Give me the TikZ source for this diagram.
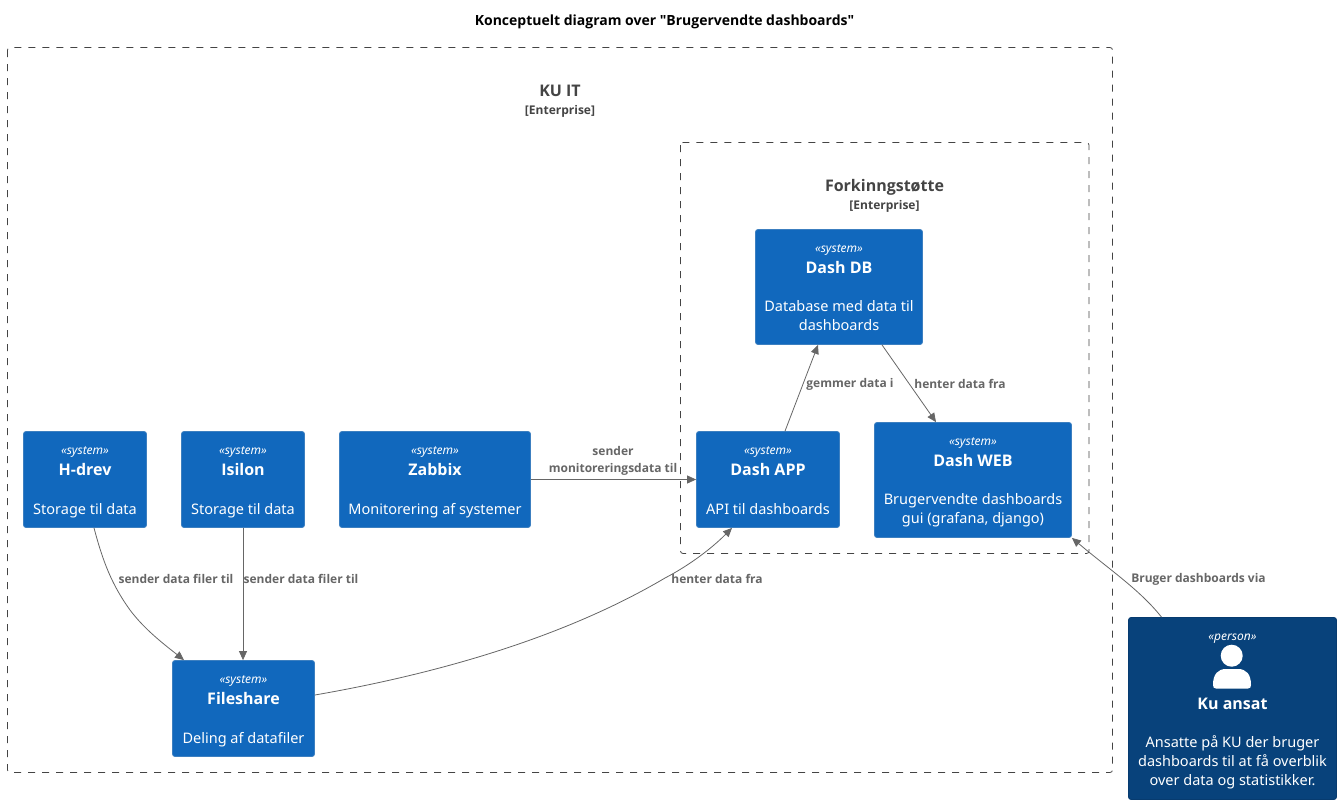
\documentclass[tikz,border=0pt]{standalone}
\usepackage{fontspec}
\setmainfont{Noto Sans}[Ligatures=TeXOff,BoldFont={Open Sans Bold}]
\usetikzlibrary{arrows.meta}
\definecolor{syscol}{HTML}{1168BD}
\definecolor{syslinecol}{HTML}{3C7FC0}
\definecolor{percol}{HTML}{08427B}
\definecolor{perlinecol}{HTML}{073B6F}
\definecolor{relcol}{HTML}{666666}
\definecolor{framecol}{HTML}{444444}
% every text line of a box has a fixed height, so the baselines are exact
\newcommand{\stereotxt}[1]{\rule{0pt}{14pt}\smash{\fontsize{12}{14}\selectfont\itshape «#1»}}
\newcommand{\nametxt}[2][21]{\rule{0pt}{#1pt}\smash{\fontsize{16}{18}\selectfont\bfseries #2}}
\newcommand{\desctxt}[2][19]{\rule{0pt}{#1pt}\smash{\fontsize{14.5}{16}\selectfont #2}}
\newcommand{\lastdepth}[1]{\rule[-#1pt]{0pt}{#1pt}}
\tikzset{
  sysbox/.style={draw=syslinecol, fill=syscol, text=white, rounded corners=2.5pt, align=center, inner sep=0pt, line width=.8pt, execute at begin node={\offinterlineskip}},
  perbox/.style={draw=perlinecol, fill=percol, text=white, rounded corners=2.5pt, align=center, inner sep=0pt, line width=.8pt, execute at begin node={\offinterlineskip}},
  framebox/.style={draw=framecol, dash pattern=on 7pt off 7pt, rounded corners=2.5pt, line width=.8pt},
  rel/.style={draw=relcol, line width=.8pt, -{Triangle[length=9pt,width=8pt]}},
  rellabel/.style={text=relcol, font=\fontsize{12}{17}\selectfont\bfseries, align=center, inner sep=0pt},
  frametitle/.style={text=framecol, font=\fontsize{16}{21}\selectfont\bfseries, inner sep=0pt},
  frametag/.style={text=framecol, font=\fontsize{12}{17}\selectfont\bfseries, inner sep=0pt}
}
\begin{document}
\begin{tikzpicture}[x=1pt,y=-1pt]
\useasboundingbox (0,0) rectangle (1341,804);
\node[inner sep=0pt, font=\fontsize{14}{19}\selectfont\bfseries] (title) at (664.5,21.5) {Konceptuelt diagram over "Brugervendte dashboards"};
% frames
\draw[framebox] (7.5,47.5) rectangle (1112.5,772.5);
\draw[framebox] (680.5,142.5) rectangle (1089,553.5);
\node[frametitle] (kuit) at (560,90.5) {KU IT};
\node[frametag] (kuittag) at (560,111) {[Enterprise]};
\node[frametitle] (fork) at (884.5,187) {Forkinngstøtte};
\node[frametag] (forktag) at (884.5,206) {[Enterprise]};
% systems
\node[sysbox, minimum width=123, minimum height=96] (hdrev) at (85,479.5) {\stereotxt{system}\\\nametxt{H-drev}\\\desctxt[39]{Storage til data}\lastdepth{5}};
\node[sysbox, minimum width=123, minimum height=96] (isilon) at (243,479.5) {\stereotxt{system}\\\nametxt{Isilon}\\\desctxt[39]{Storage til data}\lastdepth{5}};
\node[sysbox, minimum width=191, minimum height=96] (zabbix) at (435,479.5) {\stereotxt{system}\\\nametxt{Zabbix}\\\desctxt[39]{Monitorering af systemer}\lastdepth{5}};
\node[sysbox, minimum width=143, minimum height=96] (dashapp) at (768,479.5) {\stereotxt{system}\\\nametxt{Dash APP}\\\desctxt[39]{API til dashboards}\lastdepth{5}};
\node[sysbox, minimum width=197, minimum height=115] (dashweb) at (973,480) {\stereotxt{system}\\\nametxt{Dash WEB}\\\desctxt[38]{Brugervendte dashboards}\\\desctxt{gui (grafana, django)}\lastdepth{6}};
\node[sysbox, minimum width=167, minimum height=115] (dashdb) at (839,287) {\stereotxt{system}\\\nametxt{Dash DB}\\\desctxt[38]{Database med data til}\\\desctxt{dashboards}\lastdepth{6}};
\node[sysbox, minimum width=142, minimum height=96] (fileshare) at (243.5,708.5) {\stereotxt{system}\\\nametxt{Fileshare}\\\desctxt[39]{Deling af datafiler}\lastdepth{5}};
\node[perbox, minimum width=208, minimum height=182] (kuansat) at (1232.5,708.5) {\stereotxt{person}\\\nametxt[69]{Ku ansat}\\\desctxt[38]{Ansatte på KU der bruger}\\\desctxt{dashboards til at få overblik}\\\desctxt{over data og statistikker.}\lastdepth{6}};
% person icon
\fill[white] (1231.7,655.7) circle(11);
\fill[white] (1213,685) .. controls (1213,674) and (1218,669) .. (1226,669) -- (1238,669) .. controls (1246,669) and (1251,674) .. (1251,685) .. controls (1251,687.5) and (1250,688.5) .. (1248,688.5) -- (1216,688.5) .. controls (1214,688.5) and (1213,687.5) .. (1213,685) -- cycle;
% relations
\draw[rel] ([xshift=9pt]hdrev.south) .. controls (103,562) and (112,585) .. (130,610) .. controls (145,630) and (165,645) .. ([xshift=-59.5pt]fileshare.north);
\draw[rel] (isilon.south) -- ([xshift=-.5pt]fileshare.north);
\draw[rel] (zabbix.east) -- (dashapp.west);
\draw[rel] (fileshare.east |- 0,695) .. controls (430,675) and (560,640) .. (665,578) .. controls (690,565) and (712,548) .. ([xshift=-36pt]dashapp.south);
\draw[rel] ([xshift=17pt]dashapp.north) -- ([xshift=-21pt]dashdb.south);
\draw[rel] ([xshift=43pt]dashdb.south) -- ([xshift=-37pt]dashweb.north);
\draw[rel] ([xshift=-71pt]kuansat.north) .. controls (1140,590) and (1110,570) .. (dashweb.south east);
% labels
\node[rellabel] (lblhdrev) at (176,579) {sender data filer til};
\node[rellabel] (lblisilon) at (301,579) {sender data filer til};
\node[rellabel] (lblzabbix) at (613,461) {sender\\monitoreringsdata til};
\node[rellabel] (lblfile) at (717,579) {henter data fra};
\node[rellabel] (lblapp) at (850,384.5) {gemmer data i};
\node[rellabel] (lbldb) at (960,384) {henter data fra};
\node[rellabel] (lblper) at (1198.5,579.5) {Bruger dashboards via};
\end{tikzpicture}
\end{document}
